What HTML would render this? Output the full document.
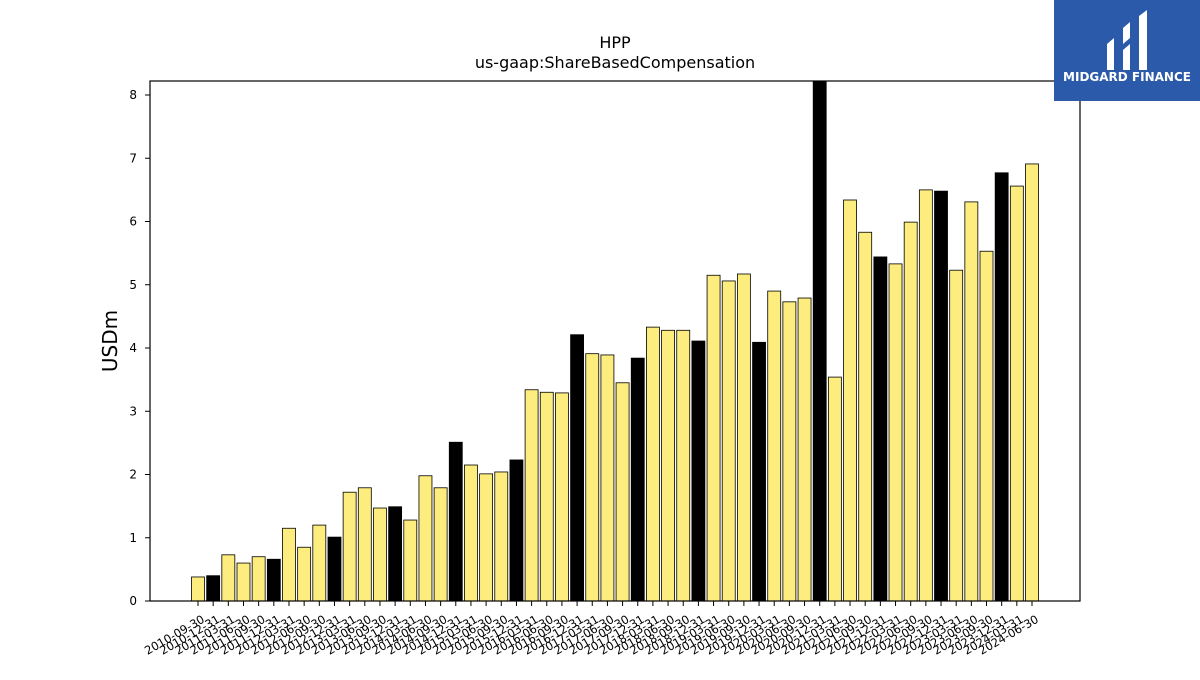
<!DOCTYPE html>
<html><head><meta charset="utf-8"><style>
body{margin:0;background:#fff;}
svg text{font-family:"DejaVu Sans","Liberation Sans",sans-serif;}
</style></head><body>
<svg id="chart" width="1200" height="675" xmlns="http://www.w3.org/2000/svg">
<rect width="1200" height="675" fill="#fff"/>
<text x="615" y="48" text-anchor="middle" font-size="16">HPP</text>
<text x="615" y="68" text-anchor="middle" font-size="16">us-gaap:ShareBasedCompensation</text>
<text transform="translate(117,341) rotate(-90)" text-anchor="middle" font-size="20">USDm</text>
<defs><clipPath id="pc"><rect x="150" y="81" width="930" height="520"/></clipPath></defs>
<g id="bars" clip-path="url(#pc)"></g>
<g id="yticks"></g>
<g id="xticks"></g>
<rect x="150" y="81" width="930" height="520" fill="none" stroke="#000" stroke-width="1.2"/>
<g>
<rect x="1054" y="0" width="146" height="101" fill="#2b5aab"/>
<path d="M1107 44 L1114 38 L1114 70 L1107 70 Z" fill="#fff"/>
<path d="M1123 28 L1130 22 L1130 38 L1123 44 Z M1123 50 L1130 44 L1130 70 L1123 70 Z" fill="#fff"/>
<path d="M1139 16 L1147 10 L1147 70 L1139 70 Z" fill="#fff"/>
<text x="1127" y="81" text-anchor="middle" font-size="12" font-weight="bold" fill="#fff">MIDGARD FINANCE</text>
</g>
</svg>
<script>
const categories=[];
const years=[2010,2011,2012,2013,2014,2015,2016,2017,2018,2019,2020,2021,2022,2023,2024];
const quarterEnds=["03-31","06-30","09-30","12-31"];
years.forEach(y=>quarterEnds.forEach(q=>categories.push(y+"-"+q)));
categories.splice(0,2);categories.splice(56);
const values=[0.38,0.40,0.73,0.60,0.70,0.66,1.15,0.85,1.20,1.01,1.72,1.79,1.47,1.49,1.28,1.98,1.79,2.51,2.15,2.01,2.04,2.23,3.34,3.30,3.29,4.21,3.91,3.89,3.45,3.84,4.33,4.28,4.28,4.11,5.15,5.06,5.17,4.09,4.90,4.73,4.79,8.5,3.54,6.34,5.83,5.44,5.33,5.99,6.50,6.48,5.23,6.31,5.53,6.77,6.56,6.91];
const yTicks=[0,1,2,3,4,5,6,7,8];
const NS="http://www.w3.org/2000/svg";
const yMax=(601-81)/63.25;
const yS=v=>601-v/yMax*520;
const xS=i=>198+i*(1032-198)/(values.length-1);
const bars=document.getElementById('bars'),yt=document.getElementById('yticks'),xt=document.getElementById('xticks');
function mk(t,a){const e=document.createElementNS(NS,t);for(const k in a)e.setAttribute(k,a[k]);return e;}
values.forEach((v,i)=>{
 const q4=categories[i].endsWith("12-31");
 const r=mk('rect',{x:xS(i)-6.5,y:yS(v),width:13,height:601-yS(v),fill:q4?'#000':'#fded7e',stroke:'#000','stroke-width':0.8});
 
 
 bars.appendChild(r);
 const tk=mk('line',{x1:xS(i),x2:xS(i),y1:601,y2:606,stroke:'#000'});
 
 
 xt.appendChild(tk);
 const tx=mk('text',{transform:`translate(${xS(i)+3},614) rotate(-30)`,'text-anchor':'end','font-size':11.5,'dominant-baseline':'hanging'});
 tx.textContent=categories[i];
 
 
 xt.appendChild(tx);
});
yTicks.forEach(v=>{
 const l=mk('line',{x1:145,x2:150,y1:yS(v),y2:yS(v),stroke:'#000'});
 
 
 yt.appendChild(l);
 const t=mk('text',{x:137,y:yS(v)+4,'text-anchor':'end','font-size':12});
 t.textContent=v;
 
 
 yt.appendChild(t);
});
</script>
</body></html>
